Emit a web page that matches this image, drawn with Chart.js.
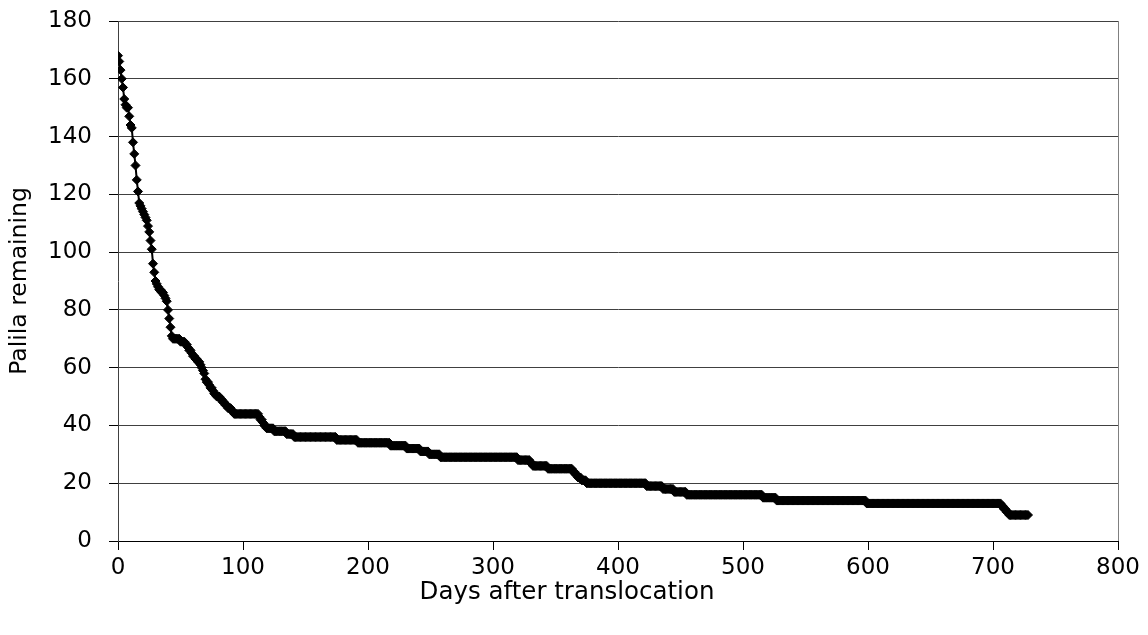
<!DOCTYPE html>
<html>
<head>
<meta charset="utf-8">
<script src="https://cdn.jsdelivr.net/npm/chart.js@4/dist/chart.umd.min.js"></script>
<style>
  html, body { margin: 0; padding: 0; background: #ffffff; }
  #wrap { width: 1148px; height: 635px; }
</style>
</head>
<body>
<div id="wrap"><canvas id="c" width="1148" height="635"></canvas></div>
<script>
// Day on which the number of palila remaining changed, and the new count from that day on
const changeDays = [0, 1, 2, 3, 4, 5, 6, 7, 9, 10, 11, 12, 13, 14, 15, 16, 17, 18, 19, 20,
  21, 22, 23, 24, 25, 26, 27, 28, 29, 30, 31, 32, 33, 35, 37, 38, 39, 40, 41, 42,
  43, 44, 50, 54, 56, 57, 59, 60, 62, 64, 66, 67, 68, 69, 70, 71, 73, 74, 76, 77,
  79, 82, 84, 86, 88, 91, 93, 113, 114, 116, 117, 119, 125, 135, 141, 175, 192, 218, 231, 242,
  249, 258, 320, 330, 332, 344, 364, 366, 368, 371, 375, 423, 436, 445, 455, 516, 527, 599, 707, 709,
  711, 713];
const countAfterChange = [168, 166, 163, 160, 157, 153, 151, 150, 147, 144, 143, 138, 134, 130, 125, 121, 117, 116, 115, 114,
  113, 112, 111, 109, 107, 104, 101, 96, 93, 90, 89, 88, 87, 86, 85, 84, 83, 80, 77, 74,
  71, 70, 69, 68, 67, 66, 65, 64, 63, 62, 61, 60, 59, 58, 56, 55, 54, 53, 52, 51,
  50, 49, 48, 47, 46, 45, 44, 43, 42, 41, 40, 39, 38, 37, 36, 35, 34, 33, 32, 31,
  30, 29, 28, 27, 26, 25, 24, 23, 22, 21, 20, 19, 18, 17, 16, 15, 14, 13, 12, 11,
  10, 9];
const lastDay = 728;            // last daily observation
const xTicks = [0, 100, 200, 300, 400, 500, 600, 700, 800];
const yTicks = [0, 20, 40, 60, 80, 100, 120, 140, 160, 180];
const xTitle = 'Days after translocation';
const yTitle = 'Palila remaining';

// expand the step record into one observation per day
const points = [];
let k = 0;
for (let d = 0; d <= lastDay; d++) {
  while (k + 1 < changeDays.length && changeDays[k + 1] <= d) k++;
  points.push({ x: d, y: countAfterChange[k] });
}

const FONT = 'DejaVu Sans';

// x-axis title drawn like the original (centred on the whole chart, not the plot)
const xTitlePlugin = {
  id: 'xTitlePlugin',
  afterDraw(chart) {
    const ctx = chart.ctx;
    const a = chart.chartArea;
    ctx.save();
    ctx.fillStyle = '#000';
    ctx.font = '24.5px "' + FONT + '"';
    ctx.textAlign = 'center';
    ctx.textBaseline = 'middle';
    ctx.fillText(xTitle, a.left + a.width * 0.449, a.bottom + 52);
    ctx.restore();
  }
};

new Chart(document.getElementById('c'), {
  type: 'line',
  data: {
    datasets: [{
      data: points,
      borderColor: '#000000',
      backgroundColor: '#000000',
      borderWidth: 2,
      pointStyle: 'rectRot',
      pointRadius: 4.5,
      pointBorderWidth: 1,
      pointBackgroundColor: '#000000',
      pointBorderColor: '#000000',
      tension: 0,
      fill: false
    }]
  },
  plugins: [xTitlePlugin],
  options: {
    responsive: false,
    animation: false,
    events: [],
    layout: { padding: { top: 21, right: 30, bottom: 0, left: 0 } },
    plugins: { legend: { display: false }, tooltip: { enabled: false } },
    scales: {
      x: {
        type: 'linear',
        min: 0, max: 800,
        afterBuildTicks: s => { s.ticks = xTicks.map(v => ({ value: v })); },
        afterFit: s => { s.height = 94; s.paddingLeft = 0; s.paddingRight = 0; },
        ticks: { color: '#000', font: { family: FONT, size: 23 }, padding: 4, maxRotation: 0 },
        grid: {
          drawOnChartArea: true,
          color: c => (c.tick && c.tick.value === 800) ? '#808080' : 'rgba(0,0,0,0)',
          tickColor: '#000',
          tickLength: 9,
          lineWidth: 1
        },
        border: { display: true, color: '#000', width: 1 },
        title: { display: false, text: xTitle }
      },
      y: {
        min: 0, max: 180,
        afterBuildTicks: s => { s.ticks = yTicks.map(v => ({ value: v })); },
        afterFit: s => { s.width = 118; s.paddingTop = 0; s.paddingBottom = 0; },
        ticks: { color: '#000', font: { family: FONT, size: 23 }, padding: 17 },
        grid: {
          color: '#404040',
          tickColor: '#000',
          tickLength: 9,
          lineWidth: 1
        },
        border: { display: true, color: '#404040', width: 1 },
        title: { display: true, text: yTitle, color: '#000', font: { family: FONT, size: 23.5 }, padding: { top: 6, bottom: 4 } }
      }
    }
  }
});
</script>
</body>
</html>
